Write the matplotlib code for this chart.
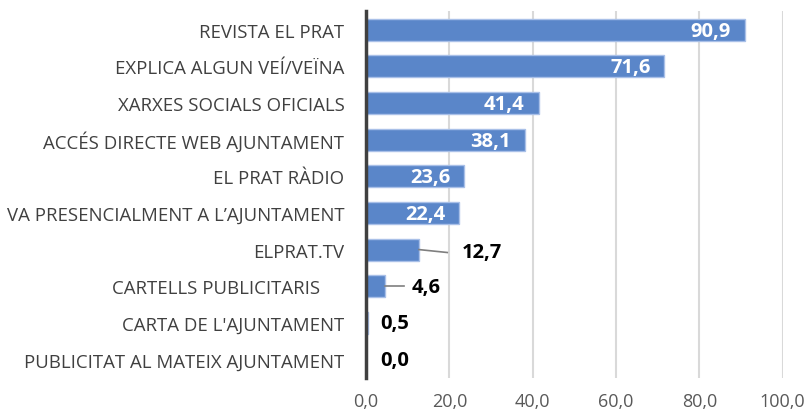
import matplotlib.pyplot as plt
import numpy as np

# data (top to bottom)
categories = [
    "REVISTA EL PRAT",
    "EXPLICA ALGUN VEÍ/VEÏNA",
    "XARXES SOCIALS OFICIALS",
    "ACCÉS DIRECTE WEB AJUNTAMENT",
    "EL PRAT RÀDIO",
    "VA PRESENCIALMENT A L\u2019AJUNTAMENT",
    "ELPRAT.TV",
    "CARTELLS PUBLICITARIS     ",
    "CARTA DE L'AJUNTAMENT",
    "PUBLICITAT AL MATEIX AJUNTAMENT",
]
values = [90.9, 71.6, 41.4, 38.1, 23.6, 22.4, 12.7, 4.6, 0.5, 0.0]
xticks = [0, 20, 40, 60, 80, 100]

plt.rcParams['font.family'] = ['Open Sans', 'DejaVu Sans']

fig = plt.figure(figsize=(8.08, 4.14), dpi=100)
ax = fig.add_axes([0.453, 0.085, 0.5157, 0.885])

y = np.arange(len(categories))
ax.barh(y, values, height=0.6, color='#5a86c9', edgecolor='#a9c0e8', linewidth=1.0, zorder=3)

ax.set_xlim(0, 100)
ax.set_ylim(len(categories) - 0.5, -0.5)
ax.set_yticks(y)
ax.set_yticklabels(categories, fontsize=13.4, color='#404040')
ax.set_xticks(xticks)
ax.set_xticklabels([f"{t:.1f}".replace('.', ',') for t in xticks], fontsize=13, color='#595959')
ax.tick_params(axis='both', length=0)
ax.tick_params(axis='y', pad=15.5)
ax.tick_params(axis='x', pad=10.5)

ax.grid(True, axis='x', color='#d9d9d9', linewidth=1.5, zorder=0)
for s in ['top', 'right', 'bottom']:
    ax.spines[s].set_visible(False)
ax.spines['left'].set_color('#404040')
ax.spines['left'].set_linewidth(2.5)
ax.spines['left'].set_zorder(4)

for i, v in enumerate(values):
    lab = f"{v:.1f}".replace('.', ',')
    if v > 20:
        ax.text(v - 3.3, i + 0.03, lab, ha='right', va='center', color='white',
                fontsize=14.5, fontweight='bold', zorder=5)
    elif v > 10:
        ax.plot([v, v + 6.8], [i, i + 0.08], color='#7f7f7f', lw=1.2, zorder=4)
        ax.text(v + 10.3, i + 0.06, lab, ha='left', va='center', color='black',
                fontsize=14.5, fontweight='bold')
    elif v > 1:
        ax.plot([v, v + 4.6], [i, i], color='#7f7f7f', lw=1.2, zorder=4)
        ax.text(v + 6.4, i + 0.01, lab, ha='left', va='center', color='black',
                fontsize=14.5, fontweight='bold')
    else:
        ax.text(3.4, i + 0.01, lab, ha='left', va='center', color='black',
                fontsize=14.5, fontweight='bold')

fig.savefig('out.png', dpi=100)
